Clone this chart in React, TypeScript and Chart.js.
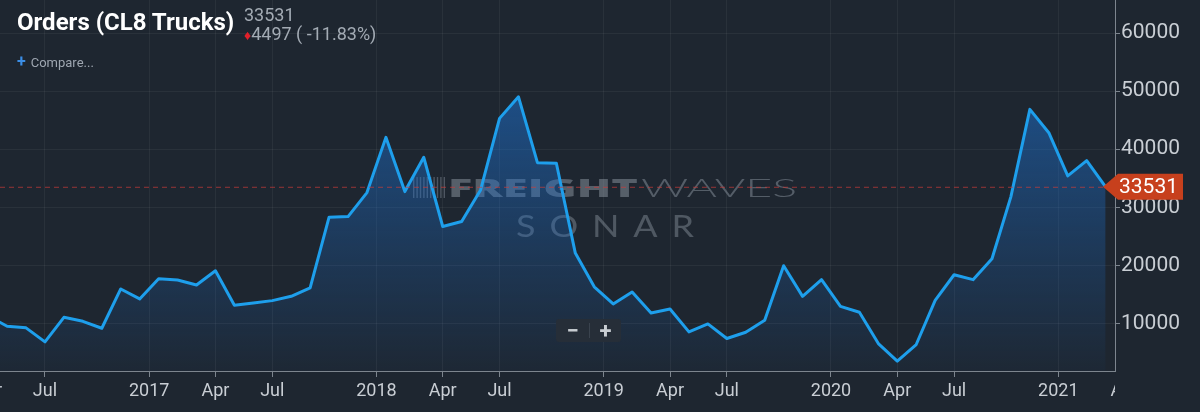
import { useEffect, useRef } from "react";
import { Chart, registerables } from "chart.js";
import type { Plugin } from "chart.js";

Chart.register(...registerables);

// monthly Class 8 truck orders, Apr 2016 .. Mar 2021
const months = [
  "2016-04", "2016-05", "2016-06", "2016-07", "2016-08", "2016-09", "2016-10", "2016-11", "2016-12",
  "2017-01", "2017-02", "2017-03", "2017-04", "2017-05", "2017-06", "2017-07", "2017-08", "2017-09",
  "2017-10", "2017-11", "2017-12", "2018-01", "2018-02", "2018-03", "2018-04", "2018-05", "2018-06",
  "2018-07", "2018-08", "2018-09", "2018-10", "2018-11", "2018-12", "2019-01", "2019-02", "2019-03",
  "2019-04", "2019-05", "2019-06", "2019-07", "2019-08", "2019-09", "2019-10", "2019-11", "2019-12",
  "2020-01", "2020-02", "2020-03", "2020-04", "2020-05", "2020-06", "2020-07", "2020-08", "2020-09",
  "2020-10", "2020-11", "2020-12", "2021-01", "2021-02", "2021-03",
];
const orders = [
  11300, 9500, 9230, 6820, 11050, 10360, 9160, 15930, 14210,
  17700, 17470, 16610, 19070, 13110, 13520, 13920, 14660, 16100,
  28300, 28400, 32530, 42040, 32700, 38610, 26690, 27540, 32990,
  45310, 49020, 37680, 37580, 22110, 16300, 13350, 15410, 11800,
  12490, 8540, 9910, 7390, 8470, 10530, 19930, 14660, 17530,
  12940, 11910, 6530, 3490, 6360, 13970, 18380, 17530, 21130,
  31840, 46860, 42840, 35400, 38028, 33531,
];

const tickMonths = [
  "2016-04", "2016-07", "2017-01", "2017-04", "2017-07", "2018-01", "2018-04", "2018-07",
  "2019-01", "2019-04", "2019-07", "2020-01", "2020-04", "2020-07", "2021-01", "2021-04",
];
const tickLabels = [
  "Apr", "Jul", "2017", "Apr", "Jul", "2018", "Apr", "Jul",
  "2019", "Apr", "Jul", "2020", "Apr", "Jul", "2021", "Apr",
];
const yTicks = [10000, 20000, 30000, 40000, 50000, 60000];

const X_MIN = 0.625;
const X_MAX = 59.495;
const Y_MIN = 1800;
const Y_MAX = 65700;

const BG = "#1e2630";
const LABEL = "#c9ced4";
const AXIS = "#7d858e";

const monthIndex = (m: string) => {
  const [y, mo] = m.split("-").map(Number);
  return (y - 2016) * 12 + (mo - 4);
};
// year ticks sit between Dec and Jan points (ordinal axis)
const tickPos = tickMonths.map((m, i) =>
  monthIndex(m) - (/^\d{4}$/.test(tickLabels[i]) ? 0.5 : 0)
);
const inRange = (v: number) => v >= X_MIN && v <= X_MAX;

const watermark: Plugin<"line"> = {
  id: "watermark",
  beforeDatasetsDraw(chart) {
    const ctx = chart.ctx;
    ctx.save();
    // barcode mark
    ctx.fillStyle = "rgba(170,178,188,0.35)";
    for (let i = 0; i < 10; i++) {
      ctx.fillRect(413 + i * 3.4, 177, 1.4, 21);
    }
    const fit = (text: string, font: string, x: number, base: number, w: number, color: string, spacing = "0px") => {
      ctx.font = font;
      (ctx as any).letterSpacing = spacing;
      const m = ctx.measureText(text).width;
      ctx.save();
      ctx.translate(x, base);
      ctx.scale(w / m, 1);
      ctx.fillStyle = color;
      ctx.textBaseline = "alphabetic";
      ctx.textAlign = "left";
      ctx.fillText(text, 0, 0);
      ctx.restore();
    };
    fit("FREIGHT", "900 25px 'Open Sans'", 448, 197, 190, "rgba(165,175,186,0.42)");
    fit("WAVES", "300 25px Lato", 641, 197, 156, "rgba(160,170,182,0.42)");
    fit("SONAR", "400 31px Lato", 516, 237, 192, "rgba(160,170,182,0.38)", "12px");
    ctx.restore();
  },
};

const lastValue: Plugin<"line"> = {
  id: "lastValue",
  afterDraw(chart) {
    const { ctx, chartArea } = chart;
    const xs = chart.scales.x;
    const ys = chart.scales.y;
    const v = orders[orders.length - 1];
    const y = ys.getPixelForValue(v);
    const xEnd = xs.getPixelForValue(orders.length - 1);
    ctx.save();
    ctx.strokeStyle = "rgba(205,60,55,0.7)";
    ctx.lineWidth = 1;
    ctx.setLineDash([5, 4]);
    ctx.beginPath();
    ctx.moveTo(chartArea.left, y + 0.5);
    ctx.lineTo(xEnd, y + 0.5);
    ctx.stroke();
    ctx.setLineDash([]);
    // price flag
    const left = 1103;
    const bx = 1118;
    const right = 1183;
    const h = 26;
    ctx.fillStyle = "#c7401d";
    ctx.beginPath();
    ctx.moveTo(left, y);
    ctx.lineTo(bx, y - h / 2);
    ctx.lineTo(right, y - h / 2);
    ctx.lineTo(right, y + h / 2);
    ctx.lineTo(bx, y + h / 2);
    ctx.closePath();
    ctx.fill();
    ctx.fillStyle = "#ffffff";
    ctx.font = "21px Roboto";
    ctx.textAlign = "left";
    ctx.textBaseline = "middle";
    ctx.fillText(String(v), 1119, y + 1);
    ctx.restore();
  },
};

// tick labels that fall past the plot edges, clipped like the original
const edgeLabels: Plugin<"line"> = {
  id: "edgeLabels",
  afterDraw(chart) {
    const { ctx, chartArea } = chart;
    const xs = chart.scales.x;
    ctx.save();
    ctx.beginPath();
    ctx.rect(0, xs.top, chartArea.right, xs.height);
    ctx.clip();
    ctx.fillStyle = LABEL;
    ctx.font = "18px Roboto";
    ctx.textAlign = "center";
    ctx.textBaseline = "middle";
    tickPos.forEach((p, i) => {
      if (inRange(p)) return;
      ctx.fillText(tickLabels[i], xs.getPixelForValue(p), xs.top + 6 + 4 + 10.8);
    });
    ctx.restore();
  },
};

function OrdersChart() {
  const canvasRef = useRef<HTMLCanvasElement | null>(null);

  useEffect(() => {
    if (!canvasRef.current) return;
    const visibleTicks = tickPos.filter(inRange);
    const chart = new Chart(canvasRef.current, {
      type: "line",
      data: {
        datasets: [
          {
            data: orders.map((v, i) => ({ x: i, y: v })),
            borderColor: "#1e9fec",
            borderWidth: 3,
            borderJoinStyle: "round",
            pointRadius: 0,
            tension: 0,
            fill: "start",
            backgroundColor: (c: any) => {
              const area = c.chart.chartArea;
              if (!area) return "rgba(33,110,190,0.3)";
              const g = c.chart.ctx.createLinearGradient(0, area.top, 0, area.bottom);
              g.addColorStop(0, "rgba(30,112,205,0.72)");
              g.addColorStop(1, "rgba(30,112,205,0.03)");
              return g;
            },
          },
        ],
      },
      options: {
        animation: false,
        responsive: true,
        maintainAspectRatio: false,
        layout: { padding: 0 },
        plugins: {
          legend: { display: false },
          tooltip: { enabled: false },
        },
        scales: {
          x: {
            type: "linear",
            min: X_MIN,
            max: X_MAX,
            afterBuildTicks: (s: any) => {
              s.ticks = visibleTicks.map((v) => ({ value: v }));
            },
            afterFit: (s: any) => {
              s.height = 41;
              s.paddingLeft = 0;
              s.paddingRight = 0;
            },
            ticks: {
              autoSkip: false,
              maxRotation: 0,
              padding: 4,
              color: LABEL,
              font: { family: "Roboto", size: 18 },
              callback: (v: any) => tickLabels[tickPos.indexOf(Number(v))] ?? "",
            },
            grid: {
              color: "rgba(255,255,255,0.05)",
              tickColor: AXIS,
              tickLength: 6,
            },
            border: { display: true, color: AXIS, width: 1 },
          },
          y: {
            position: "right",
            min: Y_MIN,
            max: Y_MAX,
            afterBuildTicks: (s: any) => {
              s.ticks = yTicks.map((v) => ({ value: v }));
            },
            afterFit: (s: any) => {
              s.width = 85;
              s.paddingTop = 0;
              s.paddingBottom = 0;
            },
            ticks: {
              padding: 1,
              color: LABEL,
              font: { family: "Roboto", size: 21 },
              callback: (v: any) => String(v),
            },
            grid: {
              color: "rgba(255,255,255,0.05)",
              tickColor: AXIS,
              tickLength: 5,
            },
            border: { display: true, color: AXIS, width: 1 },
          },
        },
      },
      plugins: [watermark, lastValue, edgeLabels],
    });
    return () => {
      chart.destroy();
    };
  }, []);

  return <canvas ref={canvasRef}></canvas>;
}

export default function App() {
  return (
    <div
      style={{
        position: "fixed",
        left: 0,
        top: 0,
        width: 1200,
        height: 412,
        background: BG,
        overflow: "hidden",
        fontFamily: "Roboto, sans-serif",
      }}
    >
      <div style={{ position: "absolute", left: 0, top: 0, width: 1200, height: 412 }}>
        <OrdersChart />
      </div>
      <div
        style={{
          position: "absolute",
          left: 17,
          top: 9,
          fontSize: 24,
          fontWeight: 700,
          lineHeight: "26px",
          color: "#ffffff",
          whiteSpace: "nowrap",
        }}
      >
        Orders (CL8 Trucks)
      </div>
      <div
        style={{
          position: "absolute",
          left: 244,
          top: 5,
          fontSize: 18,
          lineHeight: "19px",
          color: "#a3abb4",
          whiteSpace: "nowrap",
        }}
      >
        <div>33531</div>
        <div>
          <span style={{ color: "#e0202a", fontSize: 14 }}>♦</span>4497 ( -11.83%)
        </div>
      </div>
      <div
        style={{
          position: "absolute",
          left: 17,
          top: 54,
          fontSize: 13,
          lineHeight: "16px",
          color: "#9ea6b0",
          whiteSpace: "nowrap",
        }}
      >
        <span style={{ color: "#3b8ee6", fontWeight: 700, fontSize: 16, marginRight: 5 }}>+</span>
        Compare...
      </div>
      <div
        style={{
          position: "absolute",
          left: 556,
          top: 319,
          width: 65,
          height: 23,
          background: "#262e38",
          borderRadius: 3,
          display: "flex",
          alignItems: "center",
          color: "#c8cdd2",
          fontWeight: 700,
          fontSize: 22,
          lineHeight: "23px",
        }}
      >
        <span style={{ width: 33, textAlign: "center" }}>−</span>
        <span style={{ width: 1, height: 15, background: "#3a434e" }}></span>
        <span style={{ width: 31, textAlign: "center" }}>+</span>
      </div>
    </div>
  );
}
